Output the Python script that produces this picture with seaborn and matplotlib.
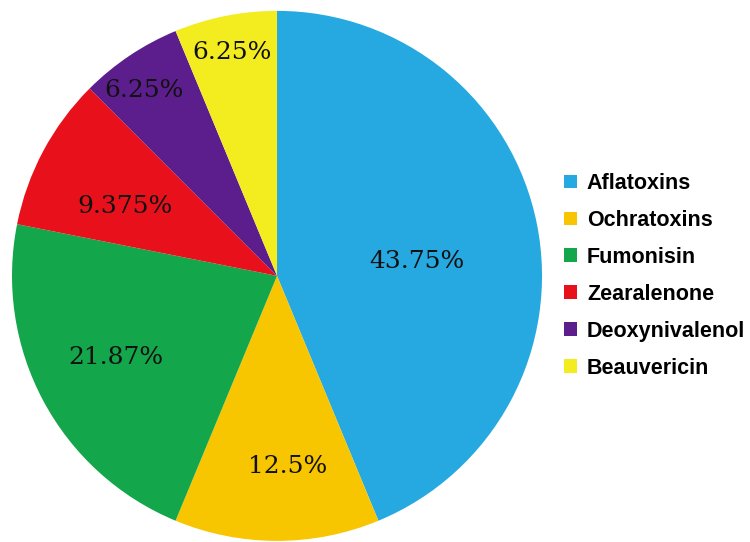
import numpy as np
import matplotlib
matplotlib.use("Agg")
import matplotlib.pyplot as plt
import seaborn as sns
from matplotlib.patches import Patch

# data
toxins = ["Aflatoxins", "Ochratoxins", "Fumonisin", "Zearalenone", "Deoxynivalenol", "Beauvericin"]
shares = [43.75, 12.5, 21.87, 9.375, 6.25, 6.25]
share_labels = ["43.75%", "12.5%", "21.87%", "9.375%", "6.25%", "6.25%"]
colors = ["#26a9e1", "#f7c600", "#13a64a", "#e8111b", "#5c1e8c", "#f3ec1f"]
# where each percentage label sits: fraction of radius, and degrees off the wedge middle
label_dist = [0.53, 0.72, 0.68, 0.63, 0.86, 0.86]
label_turn = [-5.5, 3.3, -1.2, 3.7, 1.8, 0.0]

sns.set_theme(style="white")
palette = sns.color_palette(colors)

fig = plt.figure(figsize=(7.5, 5.42), dpi=100)
ax = fig.add_axes([0.016, 0.002, 0.7067, 0.978])

wedges, _ = ax.pie(shares, colors=palette, startangle=90, counterclock=False,
                   wedgeprops=dict(linewidth=0))
ax.set_xlim(-1, 1)
ax.set_ylim(-1, 1)
ax.set_aspect("equal")

for w, lab, d, t in zip(wedges, share_labels, label_dist, label_turn):
    ang = np.deg2rad((w.theta1 + w.theta2) / 2 + t)
    ax.text(d * np.cos(ang), d * np.sin(ang), lab, ha="center", va="center",
            fontsize=18, family="DejaVu Serif", color="#111111")

handles = [Patch(facecolor=c, edgecolor="none") for c in palette]
fig.legend(handles, toxins, loc="center left", bbox_to_anchor=(0.741, 0.491),
           frameon=False, handlelength=0.6, handleheight=0.6, handletextpad=0.45,
           labelspacing=0.74, borderaxespad=0, labelcolor="black",
           prop=dict(family="Liberation Sans", weight="bold", size=15.5))

fig.savefig("out.png", dpi=100)
